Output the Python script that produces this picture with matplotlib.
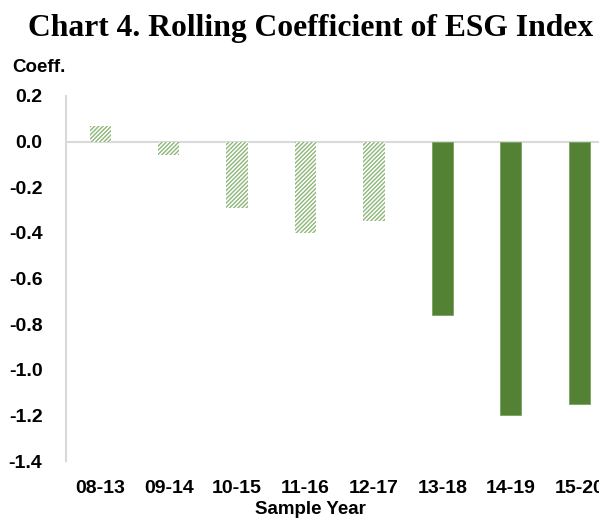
import matplotlib.pyplot as plt

# rolling window coefficients of the ESG index
periods = ["08-13", "09-14", "10-15", "11-16", "12-17", "13-18", "14-19", "15-20"]
coeffs = [0.07, -0.06, -0.29, -0.40, -0.35, -0.76, -1.20, -1.15]
significant = [False, False, False, False, False, True, True, True]
yticks = [0.2, 0.0, -0.2, -0.4, -0.6, -0.8, -1.0, -1.2, -1.4]

solid_green = "#548235"
hatch_green = "#8db779"

plt.rcParams["hatch.linewidth"] = 1.0

fig = plt.figure(figsize=(5.99, 5.19), dpi=100)
ax = fig.add_axes([66 / 599, 58 / 519, 547.5 / 599, 365 / 519])

for i, (p, c, sig) in enumerate(zip(periods, coeffs, significant)):
    if sig:
        ax.bar(i, c, width=0.31, color=solid_green, edgecolor="#7aa262", linewidth=0.6, zorder=3)
    else:
        # insignificant coefficients get a light diagonal hatch
        ax.bar(i, c, width=0.31, color="white", edgecolor=hatch_green, hatch="////////",
               linewidth=0, zorder=3)

ax.set_xlim(-0.5, len(periods) - 0.5)
ax.set_ylim(-1.4, 0.2)
ax.axhline(0, color="#d9d9d9", linewidth=1.5, zorder=2)

ax.set_xticks(range(len(periods)))
ax.set_xticklabels(periods)
ax.set_yticks(yticks)
ax.set_yticklabels(["%.1f" % v for v in yticks])
ax.tick_params(axis="y", length=0, labelsize=14, pad=17)
ax.tick_params(axis="x", length=0, labelsize=14, pad=14)
for lab in ax.get_xticklabels() + ax.get_yticklabels():
    lab.set_fontweight("bold")
    lab.set_family("Liberation Sans")

for s in ["top", "right", "bottom"]:
    ax.spines[s].set_visible(False)
ax.spines["left"].set_color("#d9d9d9")
ax.spines["left"].set_linewidth(1.5)

fig.text(310 / 599, 1 - 510 / 519, "Sample Year", fontsize=13.5, fontweight="bold",
         family="Liberation Sans", ha="center", va="center")
fig.text(12 / 599, 1 - 68 / 519, "Coeff.", fontsize=13.5, fontweight="bold",
         family="Liberation Sans", va="center", ha="left")
fig.text(311 / 599, 1 - 36 / 519, "Chart 4. Rolling Coefficient of ESG Index",
         fontsize=22.8, fontweight="bold", family="Liberation Serif", ha="center",
         va="baseline")

fig.savefig("out.png", dpi=100)
